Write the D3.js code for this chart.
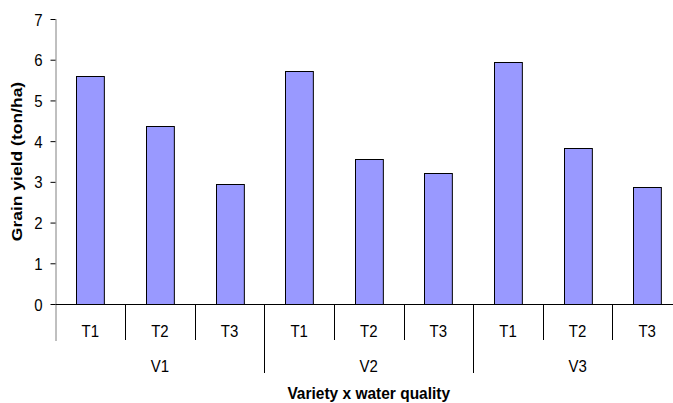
<!DOCTYPE html>
<html><head><meta charset="utf-8">
<script src="https://cdn.jsdelivr.net/npm/d3@7/dist/d3.min.js"></script>
<style>body{margin:0;background:#fff}svg{display:block;font-family:"Liberation Sans",Arial,sans-serif}</style>
</head><body><svg width="673" height="403"></svg>
<script>
const varieties = ["V1","V2","V3"];
const treatments = ["T1","T2","T3"];
const yields = [5.61, 4.36, 2.95, 5.73, 3.55, 3.22, 5.95, 3.82, 2.87];
const yTicks = [0,1,2,3,4,5,6,7];

const svg = d3.select("svg");
const mLeft = 55.5, mRight = 682, mTop = 19, mBottom = 304;
const lblSize = 15, lblStretch = 1.12, ttlSize = 15.5, ttlStretch = 1.1;
const cats = [];
varieties.forEach(v => treatments.forEach(t => cats.push(v + "-" + t)));
const x = d3.scaleBand().domain(cats).range([mLeft, mRight]).paddingInner(0.6).paddingOuter(0.3);
const y = d3.scaleLinear().domain([0, 7]).range([mBottom, mTop]);

// bars
svg.append("g").selectAll("rect").data(yields).join("rect")
  .attr("x", (d,i) => Math.round(x(cats[i])) + 0.5)
  .attr("y", d => Math.round(y(d)) + 0.5)
  .attr("width", x.bandwidth())
  .attr("height", d => mBottom - Math.round(y(d)))
  .attr("fill", "#9999ff").attr("stroke", "#000").attr("stroke-width", 1);

// y axis
const ya = svg.append("g").attr("transform", `translate(${mLeft},0)`)
  .call(d3.axisLeft(y).tickValues(yTicks).tickSize(5).tickPadding(9).tickFormat(d3.format("d")));
ya.select(".domain").attr("stroke", "#808080").attr("d", `M0.5,${mTop}V${mBottom+37}`);
ya.selectAll(".tick line").attr("stroke", "#000");
ya.selectAll("text").attr("font-size", lblSize).attr("fill", "#000")
  .attr("font-family", "Liberation Sans, Arial, sans-serif")
  .attr("dy", null).attr("x", null)
  .attr("transform", `translate(-13,${0.36*lblSize*lblStretch}) scale(1,${lblStretch})`);

// x axis baseline
svg.append("line").attr("x1", mLeft).attr("x2", 673).attr("y1", mBottom + 0.5).attr("y2", mBottom + 0.5).attr("stroke", "#000");

// category separators
const step = x.step();
const g = svg.append("g");
for (let i = 1; i <= cats.length; i++) {
  const bx = Math.round(mLeft + i * step) + 0.5;
  const isGroup = i % 3 === 0;
  g.append("line").attr("x1", bx).attr("x2", bx).attr("y1", mBottom).attr("y2", isGroup ? mBottom + 69 : mBottom + 36)
    .attr("stroke", "#000");
}
// treatment labels
svg.append("g").selectAll("text").data(cats).join("text")
  .attr("transform", d => `translate(${x(d) + x.bandwidth() / 2},337) scale(1,${lblStretch})`)
  .attr("text-anchor", "middle").attr("font-size", lblSize).text(d => d.split("-")[1]);
// variety labels
svg.append("g").selectAll("text").data(varieties).join("text")
  .attr("transform", (v,i) => `translate(${mLeft + (i * 3 + 1.5) * step},372) scale(1,${lblStretch})`)
  .attr("text-anchor", "middle").attr("font-size", lblSize).text(d => d);

// axis titles
svg.append("text").attr("transform", `translate(${(mLeft + mRight) / 2},399) scale(1,${ttlStretch})`).attr("text-anchor", "middle")
  .attr("font-size", ttlSize).attr("font-weight", "bold").text("Variety x water quality");
svg.append("text").attr("transform", `translate(22,${(mTop + mBottom) / 2}) rotate(-90) scale(${ttlStretch + 0.03},1)`).attr("text-anchor", "middle")
  .attr("font-size", ttlSize).attr("font-weight", "bold").text("Grain yield (ton/ha)");
</script></body></html>
